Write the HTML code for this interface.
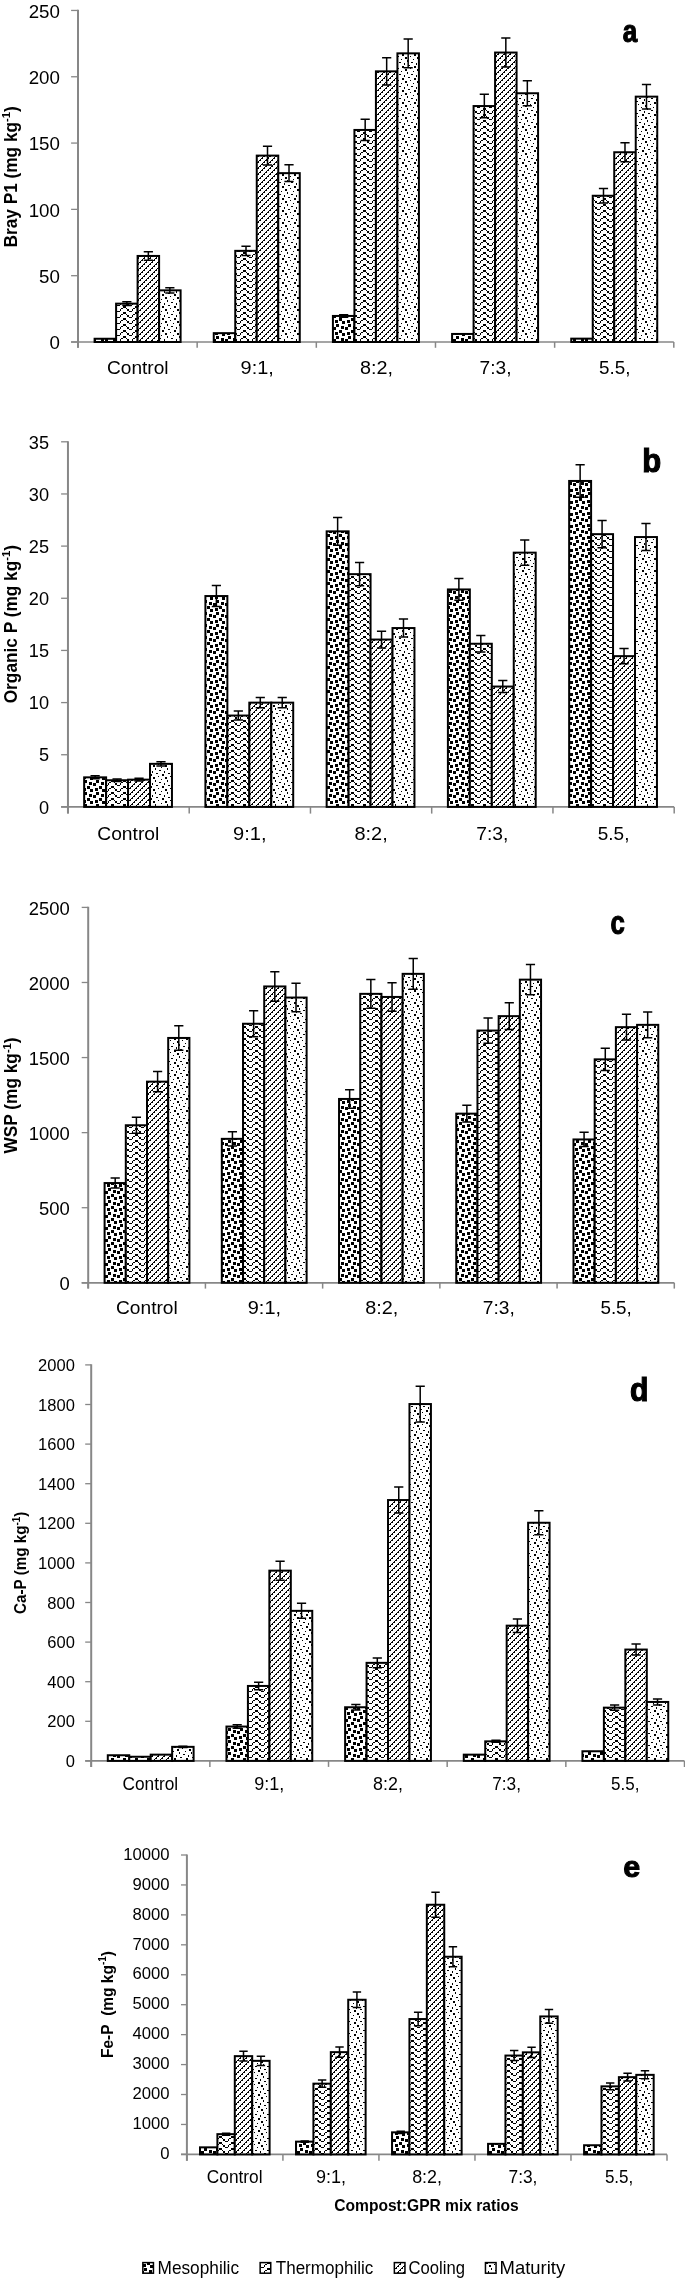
<!DOCTYPE html><html><head><meta charset="utf-8"><style>html,body{margin:0;padding:0;background:#fff;overflow:hidden;}svg{display:block;}text{font-family:"Liberation Sans",sans-serif;fill:#000;}</style></head><body>
<svg width="685" height="2279" viewBox="0 0 685 2279" style="filter:grayscale(1)">
<defs>
<pattern id="pMeso" x="0" y="9" width="12" height="12" patternUnits="userSpaceOnUse"><rect width="12" height="12" fill="#fff"/><g fill="#000" shape-rendering="crispEdges"><rect x="0" y="0" width="2" height="2"/><rect x="6" y="0" width="3" height="2"/><rect x="11" y="0" width="1" height="2"/><rect x="6" y="2" width="3" height="1"/><rect x="0" y="3" width="3" height="2"/><rect x="0" y="5" width="3" height="1"/><rect x="5" y="5" width="3" height="1"/><rect x="5" y="6" width="3" height="2"/><rect x="9" y="6" width="3" height="2"/><rect x="9" y="8" width="3" height="1"/><rect x="3" y="9" width="3" height="2"/><rect x="0" y="11" width="2" height="1"/><rect x="3" y="11" width="3" height="1"/><rect x="11" y="11" width="1" height="1"/></g></pattern>
<pattern id="pTherm" x="4" y="0" width="12" height="12" patternUnits="userSpaceOnUse"><rect width="12" height="12" fill="#fff"/><g fill="#000" shape-rendering="crispEdges"><rect x="0" y="0" width="2" height="2"/><rect x="11" y="0" width="1" height="2"/><rect x="2" y="2" width="1" height="1"/><rect x="9" y="2" width="2" height="1"/><rect x="3" y="3" width="2" height="2"/><rect x="8" y="3" width="1" height="2"/><rect x="5" y="5" width="3" height="1"/><rect x="0" y="6" width="2" height="2"/><rect x="11" y="6" width="1" height="2"/><rect x="2" y="8" width="1" height="1"/><rect x="9" y="8" width="2" height="1"/><rect x="3" y="9" width="2" height="2"/><rect x="8" y="9" width="1" height="2"/><rect x="5" y="11" width="3" height="1"/></g></pattern>
<pattern id="pCool" x="0" y="0" width="6" height="6" patternUnits="userSpaceOnUse"><rect width="6" height="6" fill="#fff"/><g fill="#000" shape-rendering="crispEdges"><rect x="5" y="0" width="1" height="1"/><rect x="0" y="0" width="1" height="1"/><rect x="4" y="1" width="1" height="1"/><rect x="3" y="2" width="2" height="1"/><rect x="2" y="3" width="1" height="1"/><rect x="1" y="4" width="2" height="1"/><rect x="0" y="5" width="1" height="1"/></g></pattern>
<pattern id="pMat" x="0" y="0" width="12" height="12" patternUnits="userSpaceOnUse"><rect width="12" height="12" fill="#fff"/><g fill="#000" shape-rendering="crispEdges"><rect x="11" y="0" width="1" height="2"/><rect x="3" y="2" width="2" height="1"/><rect x="8" y="3" width="1" height="2"/><rect x="0" y="5" width="2" height="1"/><rect x="6" y="6" width="2" height="2"/><rect x="2" y="8" width="1" height="1"/><rect x="9" y="9" width="2" height="2"/><rect x="5" y="11" width="1" height="1"/></g></pattern>
</defs>
<line x1="71.1" y1="342" x2="78" y2="342" stroke="#878787" stroke-width="1.3"/>
<text transform="translate(49.46,349.12) scale(0.1873,0.1845)" font-size="100">0</text>
<line x1="71.1" y1="275.69" x2="78" y2="275.69" stroke="#878787" stroke-width="1.3"/>
<text transform="translate(38.97,282.81) scale(0.1873,0.1845)" font-size="100">50</text>
<line x1="71.1" y1="209.38" x2="78" y2="209.38" stroke="#878787" stroke-width="1.3"/>
<text transform="translate(28.66,216.5) scale(0.1873,0.1845)" font-size="100">100</text>
<line x1="71.1" y1="143.07" x2="78" y2="143.07" stroke="#878787" stroke-width="1.3"/>
<text transform="translate(28.66,150.19) scale(0.1873,0.1845)" font-size="100">150</text>
<line x1="71.1" y1="76.76" x2="78" y2="76.76" stroke="#878787" stroke-width="1.3"/>
<text transform="translate(28.66,83.88) scale(0.1873,0.1845)" font-size="100">200</text>
<line x1="71.1" y1="10.45" x2="78" y2="10.45" stroke="#878787" stroke-width="1.3"/>
<text transform="translate(28.66,17.57) scale(0.1873,0.1845)" font-size="100">250</text>
<line x1="78" y1="9.85" x2="78" y2="347.8" stroke="#878787" stroke-width="2"/>
<line x1="71.1" y1="342" x2="673.8" y2="342" stroke="#878787" stroke-width="1.7"/>
<line x1="78" y1="342" x2="78" y2="347.8" stroke="#878787" stroke-width="1.5"/>
<line x1="197.16" y1="342" x2="197.16" y2="347.8" stroke="#878787" stroke-width="1.5"/>
<line x1="316.32" y1="342" x2="316.32" y2="347.8" stroke="#878787" stroke-width="1.5"/>
<line x1="435.48" y1="342" x2="435.48" y2="347.8" stroke="#878787" stroke-width="1.5"/>
<line x1="554.64" y1="342" x2="554.64" y2="347.8" stroke="#878787" stroke-width="1.5"/>
<line x1="673.8" y1="342" x2="673.8" y2="347.8" stroke="#878787" stroke-width="1.5"/>
<rect x="94.6" y="338.75" width="21.5" height="3.25" fill="url(#pMeso)" stroke="#000" stroke-width="2.0"/>
<rect x="116.1" y="303.65" width="21.5" height="38.35" fill="url(#pTherm)" stroke="#000" stroke-width="2.0"/>
<rect x="137.6" y="255.95" width="21.5" height="86.05" fill="url(#pCool)" stroke="#000" stroke-width="2.0"/>
<rect x="159.1" y="290.35" width="21.5" height="51.65" fill="url(#pMat)" stroke="#000" stroke-width="2.0"/>
<path d="M126.85,301.73V305.57M122.25,301.73H131.45M122.25,305.57H131.45" stroke="#000" stroke-width="1.5" fill="none"/>
<path d="M148.35,251.65V260.25M143.75,251.65H152.95M143.75,260.25H152.95" stroke="#000" stroke-width="1.5" fill="none"/>
<path d="M169.85,287.77V292.93M165.25,287.77H174.45M165.25,292.93H174.45" stroke="#000" stroke-width="1.5" fill="none"/>
<rect x="213.76" y="333.15" width="21.5" height="8.85" fill="url(#pMeso)" stroke="#000" stroke-width="2.0"/>
<rect x="235.26" y="250.85" width="21.5" height="91.15" fill="url(#pTherm)" stroke="#000" stroke-width="2.0"/>
<rect x="256.76" y="155.6" width="21.5" height="186.4" fill="url(#pCool)" stroke="#000" stroke-width="2.0"/>
<rect x="278.26" y="173.15" width="21.5" height="168.85" fill="url(#pMat)" stroke="#000" stroke-width="2.0"/>
<path d="M246.01,246.29V255.41M241.41,246.29H250.61M241.41,255.41H250.61" stroke="#000" stroke-width="1.5" fill="none"/>
<path d="M267.51,146.28V164.92M262.91,146.28H272.11M262.91,164.92H272.11" stroke="#000" stroke-width="1.5" fill="none"/>
<path d="M289.01,164.71V181.59M284.41,164.71H293.61M284.41,181.59H293.61" stroke="#000" stroke-width="1.5" fill="none"/>
<rect x="332.92" y="315.95" width="21.5" height="26.05" fill="url(#pMeso)" stroke="#000" stroke-width="2.0"/>
<rect x="354.42" y="129.95" width="21.5" height="212.05" fill="url(#pTherm)" stroke="#000" stroke-width="2.0"/>
<rect x="375.92" y="71.35" width="21.5" height="270.65" fill="url(#pCool)" stroke="#000" stroke-width="2.0"/>
<rect x="397.42" y="53.35" width="21.5" height="288.65" fill="url(#pMat)" stroke="#000" stroke-width="2.0"/>
<path d="M343.67,314.65V317.25M339.07,314.65H348.27M339.07,317.25H348.27" stroke="#000" stroke-width="1.5" fill="none"/>
<path d="M365.17,119.35V140.55M360.57,119.35H369.77M360.57,140.55H369.77" stroke="#000" stroke-width="1.5" fill="none"/>
<path d="M386.67,57.82V84.88M382.07,57.82H391.27M382.07,84.88H391.27" stroke="#000" stroke-width="1.5" fill="none"/>
<path d="M408.17,38.92V67.78M403.57,38.92H412.77M403.57,67.78H412.77" stroke="#000" stroke-width="1.5" fill="none"/>
<rect x="452.08" y="333.95" width="21.5" height="8.05" fill="url(#pMeso)" stroke="#000" stroke-width="2.0"/>
<rect x="473.58" y="106.05" width="21.5" height="235.95" fill="url(#pTherm)" stroke="#000" stroke-width="2.0"/>
<rect x="495.08" y="52.55" width="21.5" height="289.45" fill="url(#pCool)" stroke="#000" stroke-width="2.0"/>
<rect x="516.58" y="93.25" width="21.5" height="248.75" fill="url(#pMat)" stroke="#000" stroke-width="2.0"/>
<path d="M484.33,94.25V117.85M479.73,94.25H488.93M479.73,117.85H488.93" stroke="#000" stroke-width="1.5" fill="none"/>
<path d="M505.83,38.08V67.02M501.23,38.08H510.43M501.23,67.02H510.43" stroke="#000" stroke-width="1.5" fill="none"/>
<path d="M527.33,80.81V105.69M522.73,80.81H531.93M522.73,105.69H531.93" stroke="#000" stroke-width="1.5" fill="none"/>
<rect x="571.24" y="338.65" width="21.5" height="3.35" fill="url(#pMeso)" stroke="#000" stroke-width="2.0"/>
<rect x="592.74" y="195.75" width="21.5" height="146.25" fill="url(#pTherm)" stroke="#000" stroke-width="2.0"/>
<rect x="614.24" y="152.25" width="21.5" height="189.75" fill="url(#pCool)" stroke="#000" stroke-width="2.0"/>
<rect x="635.74" y="96.65" width="21.5" height="245.35" fill="url(#pMat)" stroke="#000" stroke-width="2.0"/>
<path d="M603.49,188.44V203.06M598.89,188.44H608.09M598.89,203.06H608.09" stroke="#000" stroke-width="1.5" fill="none"/>
<path d="M624.99,142.76V161.74M620.39,142.76H629.59M620.39,161.74H629.59" stroke="#000" stroke-width="1.5" fill="none"/>
<path d="M646.49,84.38V108.92M641.89,84.38H651.09M641.89,108.92H651.09" stroke="#000" stroke-width="1.5" fill="none"/>
<text transform="translate(106.94,374.31) scale(0.1913,0.1918)" font-size="100">Control</text>
<text transform="translate(240.56,374.31) scale(0.1993,0.1918)" font-size="100">9:1,</text>
<text transform="translate(359.93,374.31) scale(0.1981,0.1918)" font-size="100">8:2,</text>
<text transform="translate(479.52,374.31) scale(0.1915,0.1918)" font-size="100">7:3,</text>
<text transform="translate(599.04,374.31) scale(0.1883,0.1918)" font-size="100">5.5,</text>
<text transform="translate(16.9,247.4) rotate(-90)" font-size="17.5" font-weight="bold" textLength="141.1" lengthAdjust="spacingAndGlyphs">Bray P1 (mg kg<tspan font-size="11.38" dy="-6.65">-1</tspan><tspan dy="6.65">)</tspan></text>
<text transform="translate(622.72,41.78) scale(0.2604,0.3200)" font-size="100" font-weight="bold" stroke="#000" stroke-width="3.5">a</text>
<line x1="61.1" y1="806.9" x2="67.96" y2="806.9" stroke="#878787" stroke-width="1.3"/>
<text transform="translate(39.05,813.72) scale(0.1817,0.1761)" font-size="100">0</text>
<line x1="61.1" y1="754.74" x2="67.96" y2="754.74" stroke="#878787" stroke-width="1.3"/>
<text transform="translate(39.05,761.48) scale(0.1817,0.1761)" font-size="100">5</text>
<line x1="61.1" y1="702.59" x2="67.96" y2="702.59" stroke="#878787" stroke-width="1.3"/>
<text transform="translate(28.87,709.41) scale(0.1817,0.1761)" font-size="100">10</text>
<line x1="61.1" y1="650.43" x2="67.96" y2="650.43" stroke="#878787" stroke-width="1.3"/>
<text transform="translate(28.87,657.16) scale(0.1817,0.1761)" font-size="100">15</text>
<line x1="61.1" y1="598.27" x2="67.96" y2="598.27" stroke="#878787" stroke-width="1.3"/>
<text transform="translate(28.87,605.1) scale(0.1817,0.1761)" font-size="100">20</text>
<line x1="61.1" y1="546.11" x2="67.96" y2="546.11" stroke="#878787" stroke-width="1.3"/>
<text transform="translate(28.87,552.94) scale(0.1817,0.1761)" font-size="100">25</text>
<line x1="61.1" y1="493.96" x2="67.96" y2="493.96" stroke="#878787" stroke-width="1.3"/>
<text transform="translate(28.87,500.78) scale(0.1817,0.1761)" font-size="100">30</text>
<line x1="61.1" y1="441.8" x2="67.96" y2="441.8" stroke="#878787" stroke-width="1.3"/>
<text transform="translate(28.87,448.62) scale(0.1817,0.1761)" font-size="100">35</text>
<line x1="67.96" y1="441.2" x2="67.96" y2="813.6" stroke="#878787" stroke-width="2"/>
<line x1="61.1" y1="806.9" x2="674.2" y2="806.9" stroke="#878787" stroke-width="1.7"/>
<line x1="67.96" y1="806.9" x2="67.96" y2="813.6" stroke="#878787" stroke-width="1.5"/>
<line x1="189.21" y1="806.9" x2="189.21" y2="813.6" stroke="#878787" stroke-width="1.5"/>
<line x1="310.46" y1="806.9" x2="310.46" y2="813.6" stroke="#878787" stroke-width="1.5"/>
<line x1="431.7" y1="806.9" x2="431.7" y2="813.6" stroke="#878787" stroke-width="1.5"/>
<line x1="552.95" y1="806.9" x2="552.95" y2="813.6" stroke="#878787" stroke-width="1.5"/>
<line x1="674.2" y1="806.9" x2="674.2" y2="813.6" stroke="#878787" stroke-width="1.5"/>
<rect x="84.16" y="777.35" width="21.95" height="29.55" fill="url(#pMeso)" stroke="#000" stroke-width="2.0"/>
<rect x="106.11" y="780.25" width="21.95" height="26.65" fill="url(#pTherm)" stroke="#000" stroke-width="2.0"/>
<rect x="128.06" y="779.65" width="21.95" height="27.25" fill="url(#pCool)" stroke="#000" stroke-width="2.0"/>
<rect x="150.01" y="763.85" width="21.95" height="43.05" fill="url(#pMat)" stroke="#000" stroke-width="2.0"/>
<path d="M95.13,775.87V778.83M90.53,775.87H99.73M90.53,778.83H99.73" stroke="#000" stroke-width="1.5" fill="none"/>
<path d="M117.08,778.92V781.58M112.48,778.92H121.68M112.48,781.58H121.68" stroke="#000" stroke-width="1.5" fill="none"/>
<path d="M139.03,778.29V781.01M134.44,778.29H143.63M134.44,781.01H143.63" stroke="#000" stroke-width="1.5" fill="none"/>
<path d="M160.98,761.7V766M156.38,761.7H165.58M156.38,766H165.58" stroke="#000" stroke-width="1.5" fill="none"/>
<rect x="205.41" y="596.05" width="21.95" height="210.85" fill="url(#pMeso)" stroke="#000" stroke-width="2.0"/>
<rect x="227.36" y="715.55" width="21.95" height="91.35" fill="url(#pTherm)" stroke="#000" stroke-width="2.0"/>
<rect x="249.31" y="702.65" width="21.95" height="104.25" fill="url(#pCool)" stroke="#000" stroke-width="2.0"/>
<rect x="271.26" y="702.65" width="21.95" height="104.25" fill="url(#pMat)" stroke="#000" stroke-width="2.0"/>
<path d="M216.38,585.51V606.59M211.78,585.51H220.98M211.78,606.59H220.98" stroke="#000" stroke-width="1.5" fill="none"/>
<path d="M238.33,710.98V720.12M233.73,710.98H242.93M233.73,720.12H242.93" stroke="#000" stroke-width="1.5" fill="none"/>
<path d="M260.28,697.44V707.86M255.68,697.44H264.88M255.68,707.86H264.88" stroke="#000" stroke-width="1.5" fill="none"/>
<path d="M282.23,697.44V707.86M277.63,697.44H286.83M277.63,707.86H286.83" stroke="#000" stroke-width="1.5" fill="none"/>
<rect x="326.66" y="531.35" width="21.95" height="275.55" fill="url(#pMeso)" stroke="#000" stroke-width="2.0"/>
<rect x="348.61" y="574.15" width="21.95" height="232.75" fill="url(#pTherm)" stroke="#000" stroke-width="2.0"/>
<rect x="370.56" y="639.55" width="21.95" height="167.35" fill="url(#pCool)" stroke="#000" stroke-width="2.0"/>
<rect x="392.51" y="628.05" width="21.95" height="178.85" fill="url(#pMat)" stroke="#000" stroke-width="2.0"/>
<path d="M337.63,517.57V545.13M333.03,517.57H342.23M333.03,545.13H342.23" stroke="#000" stroke-width="1.5" fill="none"/>
<path d="M359.58,562.51V585.79M354.98,562.51H364.18M354.98,585.79H364.18" stroke="#000" stroke-width="1.5" fill="none"/>
<path d="M381.53,631.18V647.92M376.93,631.18H386.13M376.93,647.92H386.13" stroke="#000" stroke-width="1.5" fill="none"/>
<path d="M403.48,619.11V636.99M398.88,619.11H408.08M398.88,636.99H408.08" stroke="#000" stroke-width="1.5" fill="none"/>
<rect x="447.9" y="589.45" width="21.95" height="217.45" fill="url(#pMeso)" stroke="#000" stroke-width="2.0"/>
<rect x="469.85" y="643.75" width="21.95" height="163.15" fill="url(#pTherm)" stroke="#000" stroke-width="2.0"/>
<rect x="491.8" y="686.55" width="21.95" height="120.35" fill="url(#pCool)" stroke="#000" stroke-width="2.0"/>
<rect x="513.75" y="552.65" width="21.95" height="254.25" fill="url(#pMat)" stroke="#000" stroke-width="2.0"/>
<path d="M458.88,578.58V600.32M454.28,578.58H463.48M454.28,600.32H463.48" stroke="#000" stroke-width="1.5" fill="none"/>
<path d="M480.83,635.59V651.91M476.23,635.59H485.43M476.23,651.91H485.43" stroke="#000" stroke-width="1.5" fill="none"/>
<path d="M502.78,680.53V692.57M498.18,680.53H507.38M498.18,692.57H507.38" stroke="#000" stroke-width="1.5" fill="none"/>
<path d="M524.73,539.94V565.36M520.13,539.94H529.33M520.13,565.36H529.33" stroke="#000" stroke-width="1.5" fill="none"/>
<rect x="569.15" y="480.95" width="21.95" height="325.95" fill="url(#pMeso)" stroke="#000" stroke-width="2.0"/>
<rect x="591.1" y="534.15" width="21.95" height="272.75" fill="url(#pTherm)" stroke="#000" stroke-width="2.0"/>
<rect x="613.05" y="656.15" width="21.95" height="150.75" fill="url(#pCool)" stroke="#000" stroke-width="2.0"/>
<rect x="635" y="537.05" width="21.95" height="269.85" fill="url(#pMat)" stroke="#000" stroke-width="2.0"/>
<path d="M580.13,464.65V497.25M575.53,464.65H584.73M575.53,497.25H584.73" stroke="#000" stroke-width="1.5" fill="none"/>
<path d="M602.08,520.51V547.79M597.48,520.51H606.68M597.48,547.79H606.68" stroke="#000" stroke-width="1.5" fill="none"/>
<path d="M624.03,648.61V663.69M619.43,648.61H628.63M619.43,663.69H628.63" stroke="#000" stroke-width="1.5" fill="none"/>
<path d="M645.98,523.56V550.54M641.38,523.56H650.58M641.38,550.54H650.58" stroke="#000" stroke-width="1.5" fill="none"/>
<text transform="translate(97.24,839.91) scale(0.1926,0.1918)" font-size="100">Control</text>
<text transform="translate(233.04,839.91) scale(0.2007,0.1918)" font-size="100">9:1,</text>
<text transform="translate(354.5,839.91) scale(0.1994,0.1918)" font-size="100">8:2,</text>
<text transform="translate(476.18,839.91) scale(0.1928,0.1918)" font-size="100">7:3,</text>
<text transform="translate(597.79,839.91) scale(0.1896,0.1918)" font-size="100">5.5,</text>
<text transform="translate(17,703.3) rotate(-90)" font-size="17.5" font-weight="bold" textLength="158.3" lengthAdjust="spacingAndGlyphs">Organic P (mg kg<tspan font-size="11.38" dy="-6.65">-1</tspan><tspan dy="6.65">)</tspan></text>
<text transform="translate(642.13,471.97) scale(0.3100,0.3329)" font-size="100" font-weight="bold" stroke="#000" stroke-width="3.5">b</text>
<line x1="81.7" y1="1282.8" x2="88.2" y2="1282.8" stroke="#878787" stroke-width="1.3"/>
<text transform="translate(59.5,1289.92) scale(0.1846,0.1803)" font-size="100">0</text>
<line x1="81.7" y1="1207.72" x2="88.2" y2="1207.72" stroke="#878787" stroke-width="1.3"/>
<text transform="translate(39.01,1214.84) scale(0.1846,0.1803)" font-size="100">500</text>
<line x1="81.7" y1="1132.64" x2="88.2" y2="1132.64" stroke="#878787" stroke-width="1.3"/>
<text transform="translate(28.68,1139.76) scale(0.1846,0.1803)" font-size="100">1000</text>
<line x1="81.7" y1="1057.56" x2="88.2" y2="1057.56" stroke="#878787" stroke-width="1.3"/>
<text transform="translate(28.68,1064.68) scale(0.1846,0.1803)" font-size="100">1500</text>
<line x1="81.7" y1="982.48" x2="88.2" y2="982.48" stroke="#878787" stroke-width="1.3"/>
<text transform="translate(28.68,989.6) scale(0.1846,0.1803)" font-size="100">2000</text>
<line x1="81.7" y1="907.4" x2="88.2" y2="907.4" stroke="#878787" stroke-width="1.3"/>
<text transform="translate(28.68,914.52) scale(0.1846,0.1803)" font-size="100">2500</text>
<line x1="88.2" y1="906.8" x2="88.2" y2="1288.6" stroke="#878787" stroke-width="2"/>
<line x1="81.7" y1="1282.8" x2="674.3" y2="1282.8" stroke="#878787" stroke-width="1.7"/>
<line x1="88.2" y1="1282.8" x2="88.2" y2="1288.6" stroke="#878787" stroke-width="1.5"/>
<line x1="205.42" y1="1282.8" x2="205.42" y2="1288.6" stroke="#878787" stroke-width="1.5"/>
<line x1="322.64" y1="1282.8" x2="322.64" y2="1288.6" stroke="#878787" stroke-width="1.5"/>
<line x1="439.86" y1="1282.8" x2="439.86" y2="1288.6" stroke="#878787" stroke-width="1.5"/>
<line x1="557.08" y1="1282.8" x2="557.08" y2="1288.6" stroke="#878787" stroke-width="1.5"/>
<line x1="674.3" y1="1282.8" x2="674.3" y2="1288.6" stroke="#878787" stroke-width="1.5"/>
<rect x="104.6" y="1183.05" width="21.2" height="99.75" fill="url(#pMeso)" stroke="#000" stroke-width="2.0"/>
<rect x="125.8" y="1125.25" width="21.2" height="157.55" fill="url(#pTherm)" stroke="#000" stroke-width="2.0"/>
<rect x="147" y="1081.65" width="21.2" height="201.15" fill="url(#pCool)" stroke="#000" stroke-width="2.0"/>
<rect x="168.2" y="1037.95" width="21.2" height="244.85" fill="url(#pMat)" stroke="#000" stroke-width="2.0"/>
<path d="M115.2,1178.06V1188.04M110.6,1178.06H119.8M110.6,1188.04H119.8" stroke="#000" stroke-width="1.5" fill="none"/>
<path d="M136.4,1117.37V1133.13M131.8,1117.37H141M131.8,1133.13H141" stroke="#000" stroke-width="1.5" fill="none"/>
<path d="M157.6,1071.59V1091.71M153,1071.59H162.2M153,1091.71H162.2" stroke="#000" stroke-width="1.5" fill="none"/>
<path d="M178.8,1025.71V1050.19M174.2,1025.71H183.4M174.2,1050.19H183.4" stroke="#000" stroke-width="1.5" fill="none"/>
<rect x="221.82" y="1138.85" width="21.2" height="143.95" fill="url(#pMeso)" stroke="#000" stroke-width="2.0"/>
<rect x="243.02" y="1023.75" width="21.2" height="259.05" fill="url(#pTherm)" stroke="#000" stroke-width="2.0"/>
<rect x="264.22" y="986.45" width="21.2" height="296.35" fill="url(#pCool)" stroke="#000" stroke-width="2.0"/>
<rect x="285.42" y="997.55" width="21.2" height="285.25" fill="url(#pMat)" stroke="#000" stroke-width="2.0"/>
<path d="M232.42,1131.65V1146.05M227.82,1131.65H237.02M227.82,1146.05H237.02" stroke="#000" stroke-width="1.5" fill="none"/>
<path d="M253.62,1010.8V1036.7M249.02,1010.8H258.22M249.02,1036.7H258.22" stroke="#000" stroke-width="1.5" fill="none"/>
<path d="M274.82,971.63V1001.27M270.22,971.63H279.42M270.22,1001.27H279.42" stroke="#000" stroke-width="1.5" fill="none"/>
<path d="M296.02,983.29V1011.81M291.42,983.29H300.62M291.42,1011.81H300.62" stroke="#000" stroke-width="1.5" fill="none"/>
<rect x="339.04" y="1098.95" width="21.2" height="183.85" fill="url(#pMeso)" stroke="#000" stroke-width="2.0"/>
<rect x="360.24" y="993.85" width="21.2" height="288.95" fill="url(#pTherm)" stroke="#000" stroke-width="2.0"/>
<rect x="381.44" y="996.95" width="21.2" height="285.85" fill="url(#pCool)" stroke="#000" stroke-width="2.0"/>
<rect x="402.64" y="973.85" width="21.2" height="308.95" fill="url(#pMat)" stroke="#000" stroke-width="2.0"/>
<path d="M349.64,1089.76V1108.14M345.04,1089.76H354.24M345.04,1108.14H354.24" stroke="#000" stroke-width="1.5" fill="none"/>
<path d="M370.84,979.4V1008.3M366.24,979.4H375.44M366.24,1008.3H375.44" stroke="#000" stroke-width="1.5" fill="none"/>
<path d="M392.04,982.66V1011.24M387.44,982.66H396.64M387.44,1011.24H396.64" stroke="#000" stroke-width="1.5" fill="none"/>
<path d="M413.24,958.4V989.3M408.64,958.4H417.84M408.64,989.3H417.84" stroke="#000" stroke-width="1.5" fill="none"/>
<rect x="456.26" y="1113.65" width="21.2" height="169.15" fill="url(#pMeso)" stroke="#000" stroke-width="2.0"/>
<rect x="477.46" y="1030.55" width="21.2" height="252.25" fill="url(#pTherm)" stroke="#000" stroke-width="2.0"/>
<rect x="498.66" y="1016.15" width="21.2" height="266.65" fill="url(#pCool)" stroke="#000" stroke-width="2.0"/>
<rect x="519.86" y="979.65" width="21.2" height="303.15" fill="url(#pMat)" stroke="#000" stroke-width="2.0"/>
<path d="M466.86,1105.19V1122.11M462.26,1105.19H471.46M462.26,1122.11H471.46" stroke="#000" stroke-width="1.5" fill="none"/>
<path d="M488.06,1017.94V1043.16M483.46,1017.94H492.66M483.46,1043.16H492.66" stroke="#000" stroke-width="1.5" fill="none"/>
<path d="M509.26,1002.82V1029.48M504.66,1002.82H513.86M504.66,1029.48H513.86" stroke="#000" stroke-width="1.5" fill="none"/>
<path d="M530.46,964.49V994.81M525.86,964.49H535.06M525.86,994.81H535.06" stroke="#000" stroke-width="1.5" fill="none"/>
<rect x="573.48" y="1139.45" width="21.2" height="143.35" fill="url(#pMeso)" stroke="#000" stroke-width="2.0"/>
<rect x="594.68" y="1059.35" width="21.2" height="223.45" fill="url(#pTherm)" stroke="#000" stroke-width="2.0"/>
<rect x="615.88" y="1027.15" width="21.2" height="255.65" fill="url(#pCool)" stroke="#000" stroke-width="2.0"/>
<rect x="637.08" y="1024.85" width="21.2" height="257.95" fill="url(#pMat)" stroke="#000" stroke-width="2.0"/>
<path d="M584.08,1132.28V1146.62M579.48,1132.28H588.68M579.48,1146.62H588.68" stroke="#000" stroke-width="1.5" fill="none"/>
<path d="M605.28,1048.18V1070.52M600.68,1048.18H609.88M600.68,1070.52H609.88" stroke="#000" stroke-width="1.5" fill="none"/>
<path d="M626.48,1014.37V1039.93M621.88,1014.37H631.08M621.88,1039.93H631.08" stroke="#000" stroke-width="1.5" fill="none"/>
<path d="M647.68,1011.95V1037.75M643.08,1011.95H652.28M643.08,1037.75H652.28" stroke="#000" stroke-width="1.5" fill="none"/>
<text transform="translate(116.04,1314.31) scale(0.1916,0.1918)" font-size="100">Control</text>
<text transform="translate(247.75,1314.31) scale(0.1997,0.1918)" font-size="100">9:1,</text>
<text transform="translate(365.17,1314.31) scale(0.1984,0.1918)" font-size="100">8:2,</text>
<text transform="translate(482.83,1314.31) scale(0.1918,0.1918)" font-size="100">7:3,</text>
<text transform="translate(600.4,1314.31) scale(0.1886,0.1918)" font-size="100">5.5,</text>
<text transform="translate(17.2,1153.4) rotate(-90)" font-size="17.5" font-weight="bold" textLength="116" lengthAdjust="spacingAndGlyphs">WSP (mg kg<tspan font-size="11.38" dy="-6.65">-1</tspan><tspan dy="6.65">)</tspan></text>
<text transform="translate(610.47,934.07) scale(0.2571,0.3255)" font-size="100" font-weight="bold" stroke="#000" stroke-width="3.5">c</text>
<line x1="85.2" y1="1760.9" x2="91.2" y2="1760.9" stroke="#878787" stroke-width="1.3"/>
<text transform="translate(65.7,1767.09) scale(0.1654,0.1592)" font-size="100">0</text>
<line x1="85.2" y1="1721.3" x2="91.2" y2="1721.3" stroke="#878787" stroke-width="1.3"/>
<text transform="translate(47.34,1727.49) scale(0.1654,0.1592)" font-size="100">200</text>
<line x1="85.2" y1="1681.7" x2="91.2" y2="1681.7" stroke="#878787" stroke-width="1.3"/>
<text transform="translate(47.34,1687.89) scale(0.1654,0.1592)" font-size="100">400</text>
<line x1="85.2" y1="1642.1" x2="91.2" y2="1642.1" stroke="#878787" stroke-width="1.3"/>
<text transform="translate(47.34,1648.29) scale(0.1654,0.1592)" font-size="100">600</text>
<line x1="85.2" y1="1602.5" x2="91.2" y2="1602.5" stroke="#878787" stroke-width="1.3"/>
<text transform="translate(47.34,1608.69) scale(0.1654,0.1592)" font-size="100">800</text>
<line x1="85.2" y1="1562.9" x2="91.2" y2="1562.9" stroke="#878787" stroke-width="1.3"/>
<text transform="translate(38.07,1569.09) scale(0.1654,0.1592)" font-size="100">1000</text>
<line x1="85.2" y1="1523.3" x2="91.2" y2="1523.3" stroke="#878787" stroke-width="1.3"/>
<text transform="translate(38.07,1529.49) scale(0.1654,0.1592)" font-size="100">1200</text>
<line x1="85.2" y1="1483.7" x2="91.2" y2="1483.7" stroke="#878787" stroke-width="1.3"/>
<text transform="translate(38.07,1489.89) scale(0.1654,0.1592)" font-size="100">1400</text>
<line x1="85.2" y1="1444.1" x2="91.2" y2="1444.1" stroke="#878787" stroke-width="1.3"/>
<text transform="translate(38.07,1450.29) scale(0.1654,0.1592)" font-size="100">1600</text>
<line x1="85.2" y1="1404.5" x2="91.2" y2="1404.5" stroke="#878787" stroke-width="1.3"/>
<text transform="translate(38.07,1410.69) scale(0.1654,0.1592)" font-size="100">1800</text>
<line x1="85.2" y1="1364.9" x2="91.2" y2="1364.9" stroke="#878787" stroke-width="1.3"/>
<text transform="translate(38.07,1371.09) scale(0.1654,0.1592)" font-size="100">2000</text>
<line x1="91.2" y1="1364.3" x2="91.2" y2="1766.9" stroke="#878787" stroke-width="2"/>
<line x1="85.2" y1="1760.9" x2="684.5" y2="1760.9" stroke="#878787" stroke-width="1.7"/>
<line x1="91.2" y1="1760.9" x2="91.2" y2="1766.9" stroke="#878787" stroke-width="1.5"/>
<line x1="209.86" y1="1760.9" x2="209.86" y2="1766.9" stroke="#878787" stroke-width="1.5"/>
<line x1="328.52" y1="1760.9" x2="328.52" y2="1766.9" stroke="#878787" stroke-width="1.5"/>
<line x1="447.18" y1="1760.9" x2="447.18" y2="1766.9" stroke="#878787" stroke-width="1.5"/>
<line x1="565.84" y1="1760.9" x2="565.84" y2="1766.9" stroke="#878787" stroke-width="1.5"/>
<line x1="684.5" y1="1760.9" x2="684.5" y2="1766.9" stroke="#878787" stroke-width="1.5"/>
<rect x="107.8" y="1755.25" width="21.45" height="5.65" fill="url(#pMeso)" stroke="#000" stroke-width="2.0"/>
<rect x="129.25" y="1756.75" width="21.45" height="4.15" fill="url(#pTherm)" stroke="#000" stroke-width="2.0"/>
<rect x="150.7" y="1754.65" width="21.45" height="6.25" fill="url(#pCool)" stroke="#000" stroke-width="2.0"/>
<rect x="172.15" y="1746.85" width="21.45" height="14.05" fill="url(#pMat)" stroke="#000" stroke-width="2.0"/>
<path d="M182.88,1746.15V1747.55M178.28,1746.15H187.47M178.28,1747.55H187.47" stroke="#000" stroke-width="1.5" fill="none"/>
<rect x="226.46" y="1726.55" width="21.45" height="34.35" fill="url(#pMeso)" stroke="#000" stroke-width="2.0"/>
<rect x="247.91" y="1685.95" width="21.45" height="74.95" fill="url(#pTherm)" stroke="#000" stroke-width="2.0"/>
<rect x="269.36" y="1570.65" width="21.45" height="190.25" fill="url(#pCool)" stroke="#000" stroke-width="2.0"/>
<rect x="290.81" y="1610.85" width="21.45" height="150.05" fill="url(#pMat)" stroke="#000" stroke-width="2.0"/>
<path d="M237.19,1724.83V1728.27M232.59,1724.83H241.78M232.59,1728.27H241.78" stroke="#000" stroke-width="1.5" fill="none"/>
<path d="M258.63,1682.2V1689.7M254.03,1682.2H263.24M254.03,1689.7H263.24" stroke="#000" stroke-width="1.5" fill="none"/>
<path d="M280.09,1561.14V1580.16M275.49,1561.14H284.69M275.49,1580.16H284.69" stroke="#000" stroke-width="1.5" fill="none"/>
<path d="M301.54,1603.35V1618.35M296.94,1603.35H306.14M296.94,1618.35H306.14" stroke="#000" stroke-width="1.5" fill="none"/>
<rect x="345.12" y="1707.25" width="21.45" height="53.65" fill="url(#pMeso)" stroke="#000" stroke-width="2.0"/>
<rect x="366.57" y="1662.85" width="21.45" height="98.05" fill="url(#pTherm)" stroke="#000" stroke-width="2.0"/>
<rect x="388.02" y="1500.05" width="21.45" height="260.85" fill="url(#pCool)" stroke="#000" stroke-width="2.0"/>
<rect x="409.47" y="1404.05" width="21.45" height="356.85" fill="url(#pMat)" stroke="#000" stroke-width="2.0"/>
<path d="M355.85,1704.57V1709.93M351.25,1704.57H360.45M351.25,1709.93H360.45" stroke="#000" stroke-width="1.5" fill="none"/>
<path d="M377.3,1657.95V1667.75M372.69,1657.95H381.9M372.69,1667.75H381.9" stroke="#000" stroke-width="1.5" fill="none"/>
<path d="M398.75,1487.01V1513.09M394.14,1487.01H403.35M394.14,1513.09H403.35" stroke="#000" stroke-width="1.5" fill="none"/>
<path d="M420.2,1386.21V1421.89M415.6,1386.21H424.8M415.6,1421.89H424.8" stroke="#000" stroke-width="1.5" fill="none"/>
<rect x="463.78" y="1754.65" width="21.45" height="6.25" fill="url(#pMeso)" stroke="#000" stroke-width="2.0"/>
<rect x="485.23" y="1741.35" width="21.45" height="19.55" fill="url(#pTherm)" stroke="#000" stroke-width="2.0"/>
<rect x="506.68" y="1625.65" width="21.45" height="135.25" fill="url(#pCool)" stroke="#000" stroke-width="2.0"/>
<rect x="528.13" y="1522.75" width="21.45" height="238.15" fill="url(#pMat)" stroke="#000" stroke-width="2.0"/>
<path d="M495.96,1740.37V1742.33M491.36,1740.37H500.56M491.36,1742.33H500.56" stroke="#000" stroke-width="1.5" fill="none"/>
<path d="M517.4,1618.89V1632.41M512.8,1618.89H522M512.8,1632.41H522" stroke="#000" stroke-width="1.5" fill="none"/>
<path d="M538.86,1510.84V1534.66M534.25,1510.84H543.46M534.25,1534.66H543.46" stroke="#000" stroke-width="1.5" fill="none"/>
<rect x="582.44" y="1751.25" width="21.45" height="9.65" fill="url(#pMeso)" stroke="#000" stroke-width="2.0"/>
<rect x="603.89" y="1707.65" width="21.45" height="53.25" fill="url(#pTherm)" stroke="#000" stroke-width="2.0"/>
<rect x="625.34" y="1649.55" width="21.45" height="111.35" fill="url(#pCool)" stroke="#000" stroke-width="2.0"/>
<rect x="646.79" y="1701.95" width="21.45" height="58.95" fill="url(#pMat)" stroke="#000" stroke-width="2.0"/>
<path d="M614.62,1704.99V1710.31M610.02,1704.99H619.22M610.02,1710.31H619.22" stroke="#000" stroke-width="1.5" fill="none"/>
<path d="M636.07,1643.98V1655.12M631.47,1643.98H640.67M631.47,1655.12H640.67" stroke="#000" stroke-width="1.5" fill="none"/>
<path d="M657.52,1699V1704.9M652.92,1699H662.12M652.92,1704.9H662.12" stroke="#000" stroke-width="1.5" fill="none"/>
<text transform="translate(122.54,1789.72) scale(0.1727,0.1781)" font-size="100">Control</text>
<text transform="translate(254.25,1789.72) scale(0.1799,0.1781)" font-size="100">9:1,</text>
<text transform="translate(373.09,1789.72) scale(0.1787,0.1781)" font-size="100">8:2,</text>
<text transform="translate(492.14,1789.72) scale(0.1728,0.1781)" font-size="100">7:3,</text>
<text transform="translate(611.12,1789.72) scale(0.1700,0.1781)" font-size="100">5.5,</text>
<text transform="translate(26.4,1613.9) rotate(-90)" font-size="16.4" font-weight="bold" textLength="102.2" lengthAdjust="spacingAndGlyphs">Ca-P (mg kg<tspan font-size="10.66" dy="-6.23">-1</tspan><tspan dy="6.23">)</tspan></text>
<text transform="translate(629.99,1400.77) scale(0.3020,0.3329)" font-size="100" font-weight="bold" stroke="#000" stroke-width="3.5">d</text>
<line x1="181" y1="2154.4" x2="186.9" y2="2154.4" stroke="#878787" stroke-width="1.3"/>
<text transform="translate(160.32,2159.13) scale(0.1669,0.1662)" font-size="100">0</text>
<line x1="181" y1="2124.46" x2="186.9" y2="2124.46" stroke="#878787" stroke-width="1.3"/>
<text transform="translate(132.45,2129.19) scale(0.1669,0.1662)" font-size="100">1000</text>
<line x1="181" y1="2094.52" x2="186.9" y2="2094.52" stroke="#878787" stroke-width="1.3"/>
<text transform="translate(132.45,2099.25) scale(0.1669,0.1662)" font-size="100">2000</text>
<line x1="181" y1="2064.58" x2="186.9" y2="2064.58" stroke="#878787" stroke-width="1.3"/>
<text transform="translate(132.45,2069.31) scale(0.1669,0.1662)" font-size="100">3000</text>
<line x1="181" y1="2034.64" x2="186.9" y2="2034.64" stroke="#878787" stroke-width="1.3"/>
<text transform="translate(132.45,2039.37) scale(0.1669,0.1662)" font-size="100">4000</text>
<line x1="181" y1="2004.7" x2="186.9" y2="2004.7" stroke="#878787" stroke-width="1.3"/>
<text transform="translate(132.45,2009.43) scale(0.1669,0.1662)" font-size="100">5000</text>
<line x1="181" y1="1974.76" x2="186.9" y2="1974.76" stroke="#878787" stroke-width="1.3"/>
<text transform="translate(132.45,1979.49) scale(0.1669,0.1662)" font-size="100">6000</text>
<line x1="181" y1="1944.82" x2="186.9" y2="1944.82" stroke="#878787" stroke-width="1.3"/>
<text transform="translate(132.45,1949.55) scale(0.1669,0.1662)" font-size="100">7000</text>
<line x1="181" y1="1914.88" x2="186.9" y2="1914.88" stroke="#878787" stroke-width="1.3"/>
<text transform="translate(132.45,1919.61) scale(0.1669,0.1662)" font-size="100">8000</text>
<line x1="181" y1="1884.94" x2="186.9" y2="1884.94" stroke="#878787" stroke-width="1.3"/>
<text transform="translate(132.45,1889.67) scale(0.1669,0.1662)" font-size="100">9000</text>
<line x1="181" y1="1855" x2="186.9" y2="1855" stroke="#878787" stroke-width="1.3"/>
<text transform="translate(123.26,1859.73) scale(0.1669,0.1662)" font-size="100">10000</text>
<line x1="186.9" y1="1854.4" x2="186.9" y2="2160.7" stroke="#878787" stroke-width="2"/>
<line x1="181" y1="2154.4" x2="667" y2="2154.4" stroke="#878787" stroke-width="1.7"/>
<line x1="186.9" y1="2154.4" x2="186.9" y2="2160.7" stroke="#878787" stroke-width="1.5"/>
<line x1="282.92" y1="2154.4" x2="282.92" y2="2160.7" stroke="#878787" stroke-width="1.5"/>
<line x1="378.94" y1="2154.4" x2="378.94" y2="2160.7" stroke="#878787" stroke-width="1.5"/>
<line x1="474.96" y1="2154.4" x2="474.96" y2="2160.7" stroke="#878787" stroke-width="1.5"/>
<line x1="570.98" y1="2154.4" x2="570.98" y2="2160.7" stroke="#878787" stroke-width="1.5"/>
<line x1="667" y1="2154.4" x2="667" y2="2160.7" stroke="#878787" stroke-width="1.5"/>
<rect x="200" y="2147.35" width="17.4" height="7.05" fill="url(#pMeso)" stroke="#000" stroke-width="2.0"/>
<rect x="217.4" y="2134.15" width="17.4" height="20.25" fill="url(#pTherm)" stroke="#000" stroke-width="2.0"/>
<rect x="234.8" y="2056.15" width="17.4" height="98.25" fill="url(#pCool)" stroke="#000" stroke-width="2.0"/>
<rect x="252.2" y="2060.85" width="17.4" height="93.55" fill="url(#pMat)" stroke="#000" stroke-width="2.0"/>
<path d="M226.1,2133.14V2135.16M221.9,2133.14H230.3M221.9,2135.16H230.3" stroke="#000" stroke-width="1.5" fill="none"/>
<path d="M243.5,2051.24V2061.06M239.3,2051.24H247.7M239.3,2061.06H247.7" stroke="#000" stroke-width="1.5" fill="none"/>
<path d="M260.9,2056.17V2065.53M256.7,2056.17H265.1M256.7,2065.53H265.1" stroke="#000" stroke-width="1.5" fill="none"/>
<rect x="296.02" y="2141.65" width="17.4" height="12.75" fill="url(#pMeso)" stroke="#000" stroke-width="2.0"/>
<rect x="313.42" y="2083.65" width="17.4" height="70.75" fill="url(#pTherm)" stroke="#000" stroke-width="2.0"/>
<rect x="330.82" y="2052.15" width="17.4" height="102.25" fill="url(#pCool)" stroke="#000" stroke-width="2.0"/>
<rect x="348.22" y="1999.75" width="17.4" height="154.65" fill="url(#pMat)" stroke="#000" stroke-width="2.0"/>
<path d="M304.72,2141.01V2142.29M300.52,2141.01H308.92M300.52,2142.29H308.92" stroke="#000" stroke-width="1.5" fill="none"/>
<path d="M322.12,2080.11V2087.19M317.92,2080.11H326.32M317.92,2087.19H326.32" stroke="#000" stroke-width="1.5" fill="none"/>
<path d="M339.52,2047.04V2057.26M335.32,2047.04H343.72M335.32,2057.26H343.72" stroke="#000" stroke-width="1.5" fill="none"/>
<path d="M356.92,1992.02V2007.48M352.72,1992.02H361.12M352.72,2007.48H361.12" stroke="#000" stroke-width="1.5" fill="none"/>
<rect x="392.04" y="2132.35" width="17.4" height="22.05" fill="url(#pMeso)" stroke="#000" stroke-width="2.0"/>
<rect x="409.44" y="2019.05" width="17.4" height="135.35" fill="url(#pTherm)" stroke="#000" stroke-width="2.0"/>
<rect x="426.84" y="1904.75" width="17.4" height="249.65" fill="url(#pCool)" stroke="#000" stroke-width="2.0"/>
<rect x="444.24" y="1956.75" width="17.4" height="197.65" fill="url(#pMat)" stroke="#000" stroke-width="2.0"/>
<path d="M400.74,2131.25V2133.45M396.54,2131.25H404.94M396.54,2133.45H404.94" stroke="#000" stroke-width="1.5" fill="none"/>
<path d="M418.14,2012.28V2025.82M413.94,2012.28H422.34M413.94,2025.82H422.34" stroke="#000" stroke-width="1.5" fill="none"/>
<path d="M435.54,1892.27V1917.23M431.34,1892.27H439.74M431.34,1917.23H439.74" stroke="#000" stroke-width="1.5" fill="none"/>
<path d="M452.94,1946.87V1966.63M448.74,1946.87H457.14M448.74,1966.63H457.14" stroke="#000" stroke-width="1.5" fill="none"/>
<rect x="488.06" y="2143.85" width="17.4" height="10.55" fill="url(#pMeso)" stroke="#000" stroke-width="2.0"/>
<rect x="505.46" y="2055.55" width="17.4" height="98.85" fill="url(#pTherm)" stroke="#000" stroke-width="2.0"/>
<rect x="522.86" y="2052.35" width="17.4" height="102.05" fill="url(#pCool)" stroke="#000" stroke-width="2.0"/>
<rect x="540.26" y="2016.45" width="17.4" height="137.95" fill="url(#pMat)" stroke="#000" stroke-width="2.0"/>
<path d="M514.16,2050.61V2060.49M509.96,2050.61H518.36M509.96,2060.49H518.36" stroke="#000" stroke-width="1.5" fill="none"/>
<path d="M531.56,2047.25V2057.45M527.36,2047.25H535.76M527.36,2057.45H535.76" stroke="#000" stroke-width="1.5" fill="none"/>
<path d="M548.96,2009.55V2023.35M544.76,2009.55H553.16M544.76,2023.35H553.16" stroke="#000" stroke-width="1.5" fill="none"/>
<rect x="584.08" y="2145.25" width="17.4" height="9.15" fill="url(#pMeso)" stroke="#000" stroke-width="2.0"/>
<rect x="601.48" y="2086.35" width="17.4" height="68.05" fill="url(#pTherm)" stroke="#000" stroke-width="2.0"/>
<rect x="618.88" y="2077.15" width="17.4" height="77.25" fill="url(#pCool)" stroke="#000" stroke-width="2.0"/>
<rect x="636.28" y="2074.85" width="17.4" height="79.55" fill="url(#pMat)" stroke="#000" stroke-width="2.0"/>
<path d="M610.18,2082.95V2089.75M605.98,2082.95H614.38M605.98,2089.75H614.38" stroke="#000" stroke-width="1.5" fill="none"/>
<path d="M627.58,2073.29V2081.01M623.38,2073.29H631.78M623.38,2081.01H631.78" stroke="#000" stroke-width="1.5" fill="none"/>
<path d="M644.98,2070.87V2078.83M640.78,2070.87H649.18M640.78,2078.83H649.18" stroke="#000" stroke-width="1.5" fill="none"/>
<text transform="translate(206.84,2183.12) scale(0.1730,0.1753)" font-size="100">Control</text>
<text transform="translate(315.93,2183.12) scale(0.1802,0.1753)" font-size="100">9:1,</text>
<text transform="translate(412.13,2183.12) scale(0.1791,0.1753)" font-size="100">8:2,</text>
<text transform="translate(508.55,2183.12) scale(0.1732,0.1753)" font-size="100">7:3,</text>
<text transform="translate(604.89,2183.12) scale(0.1703,0.1753)" font-size="100">5.5,</text>
<text transform="translate(112.7,2058) rotate(-90)" font-size="16.6" font-weight="bold" textLength="107" lengthAdjust="spacingAndGlyphs">Fe-P&#160; (mg kg<tspan font-size="10.79" dy="-6.31">-1</tspan><tspan dy="6.31">)</tspan></text>
<text transform="translate(623.18,1876.7) scale(0.3042,0.3036)" font-size="100" font-weight="bold" stroke="#000" stroke-width="3.5">e</text>
<text transform="translate(334.28,2211.2) scale(0.1560,0.1648)" font-size="100" font-weight="bold">Compost:GPR mix ratios</text>
<rect x="142.85" y="2262.6" width="10.6" height="10.6" fill="url(#pMeso)" stroke="#000" stroke-width="1.5"/>
<text transform="translate(157.52,2274.2) scale(0.1727,0.1797)" font-size="100">Mesophilic</text>
<rect x="260.15" y="2262.6" width="10.6" height="10.6" fill="url(#pTherm)" stroke="#000" stroke-width="1.5"/>
<text transform="translate(275.76,2274.2) scale(0.1705,0.1797)" font-size="100">Thermophilic</text>
<rect x="394.35" y="2262.6" width="10.6" height="10.6" fill="url(#pCool)" stroke="#000" stroke-width="1.5"/>
<text transform="translate(408.57,2274.2) scale(0.1664,0.1797)" font-size="100">Cooling</text>
<rect x="485.45" y="2262.6" width="10.6" height="10.6" fill="url(#pMat)" stroke="#000" stroke-width="1.5"/>
<text transform="translate(499.52,2274.2) scale(0.1845,0.1797)" font-size="100">Maturity</text>
</svg></body></html>
